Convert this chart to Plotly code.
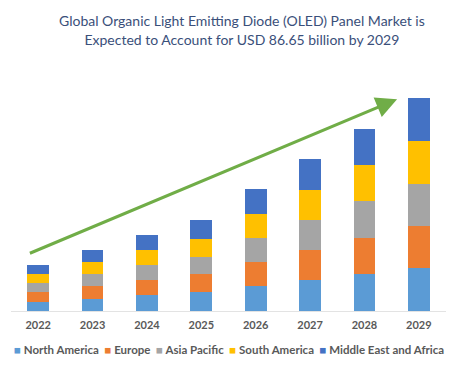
import plotly.graph_objects as go

years = ["2022", "2023", "2024", "2025", "2026", "2027", "2028", "2029"]
north_america = [3.8, 4.9, 6.4, 7.6, 10.1, 12.5, 15.0, 17.4]
europe = [3.8, 5.3, 6.2, 7.3, 9.9, 12.4, 14.7, 17.3]
asia_pacific = [3.7, 4.8, 6.0, 7.3, 9.7, 12.4, 15.0, 17.3]
south_america = [3.7, 5.0, 6.2, 7.3, 9.8, 12.2, 14.8, 17.3]
middle_east_africa = [3.8, 4.9, 6.4, 7.6, 10.1, 12.4, 14.7, 17.4]

series = [
    ("North America", north_america, "#5B9BD5"),
    ("Europe", europe, "#ED7D31"),
    ("Asia Pacific", asia_pacific, "#A5A5A5"),
    ("South America", south_america, "#FFC000"),
    ("Middle East and Africa", middle_east_africa, "#4472C4"),
]

FONT = "Lato, 'Open Sans', sans-serif"

fig = go.Figure()
for name, vals, col in series:
    fig.add_trace(go.Bar(x=years, y=vals, name=name, marker=dict(color=col, line=dict(width=0)),
                         showlegend=False))

# trend arrow
fig.add_annotation(x=6.6, y=86.4, ax=-0.18, ay=23.3, xref="x", yref="y", axref="x", ayref="y",
                   showarrow=True, arrowhead=2, arrowsize=1.4, arrowwidth=3, arrowcolor="#70AD47",
                   text="", standoff=0, startstandoff=0)

# legend as a single text line
legend_txt = "&nbsp;&nbsp;".join(
    f"<span style='color:{col}'>■</span> {name}" for name, _, col in series)
fig.add_annotation(x=0.5, y=-0.158, xref="paper", yref="paper", xanchor="center", yanchor="middle",
                   text=legend_txt, showarrow=False,
                   font=dict(family=FONT, size=11.5, color="#595959", weight="bold"))

fig.update_layout(
    width=459, height=368,
    margin=dict(l=11, r=13, t=70, b=57),
    barmode="stack", bargap=0.6,
    paper_bgcolor="white", plot_bgcolor="white",
    title=dict(text="Global Organic Light Emitting Diode (OLED) Panel Market is<br>Expected to Account for USD 86.65 billion by 2029",
               x=0.527, xref="container", xanchor="center", y=0.928, yref="container", yanchor="middle",
               font=dict(family=FONT, size=14, color="#3A4F7A")),
    xaxis=dict(type="category", showline=True, linecolor="#E3E3E3", linewidth=1, ticks="",
               ticklabelstandoff=4,
               tickfont=dict(family=FONT, size=11, color="#595959", weight="bold"), showgrid=False),
    yaxis=dict(visible=False, range=[0, 98.3], showgrid=False),
)

fig.write_html("out.html", config={"displayModeBar": False},
               post_script="document.body.style.margin='0';")
